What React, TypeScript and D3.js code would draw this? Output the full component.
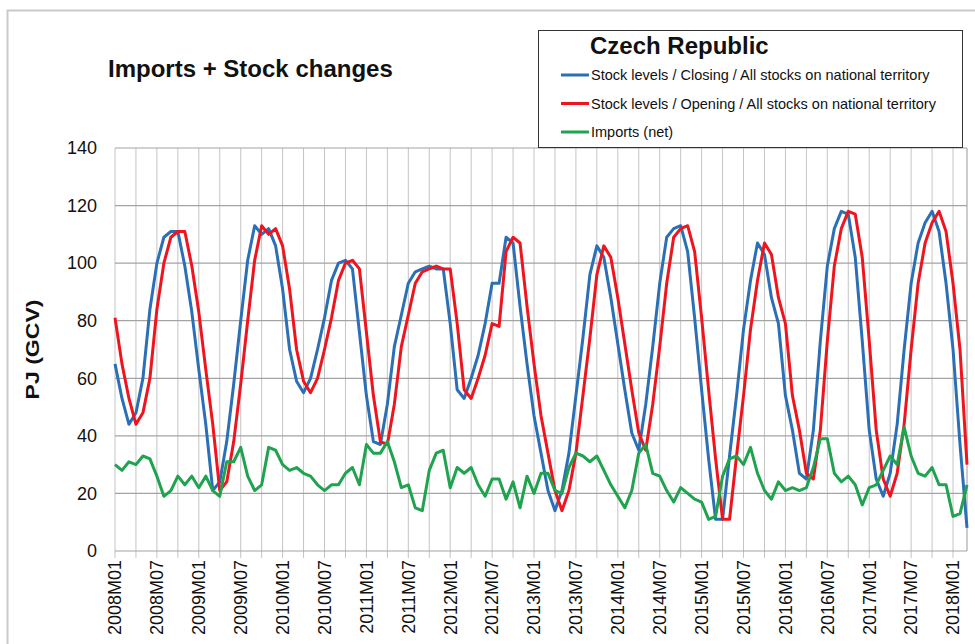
import React from 'react'
import * as d3 from 'd3'

// monthly categories 2008M01 .. 2018M03
const years = d3.range(2008, 2019)
const months = years
	.flatMap((y) => d3.range(1, 13).map((m) => `${y}M${String(m).padStart(2, '0')}`))
	.slice(0, 123)

const yTicks = [0, 20, 40, 60, 80, 100, 120, 140]

// Stock levels / Closing
const closing = [
	65, 53, 44, 48, 60, 84, 100, 109, 111, 111, 99, 83,
	63, 44, 21, 24, 38, 58, 80, 101, 113, 110, 112, 106,
	91, 70, 59, 55, 60, 70, 81, 94, 100, 101, 98, 76,
	54, 38, 37, 51, 71, 82, 93, 97, 98, 99, 98, 98,
	79, 56, 53, 60, 68, 79, 93, 93, 109, 107, 85, 65,
	47, 34, 21, 14, 21, 34, 54, 74, 96, 106, 102, 88,
	72, 56, 41, 35, 51, 71, 93, 109, 112, 113, 104, 81,
	56, 32, 11, 11, 33, 54, 77, 94, 107, 103, 88, 79,
	54, 42, 27, 25, 42, 73, 99, 112, 118, 117, 102, 73,
	42, 25, 19, 27, 44, 70, 93, 107, 114, 118, 111, 93,
	70, 37, 8,
]

// Stock levels / Opening
const opening = [
	81, 65, 53, 44, 48, 60, 84, 100, 109, 111, 111, 99,
	83, 63, 44, 21, 24, 38, 58, 80, 101, 113, 110, 112,
	106, 91, 70, 59, 55, 60, 70, 81, 94, 100, 101, 98,
	76, 54, 38, 37, 51, 71, 82, 93, 97, 98, 99, 98,
	98, 79, 56, 53, 60, 68, 79, 78, 104, 109, 107, 85,
	65, 47, 34, 21, 14, 21, 34, 54, 74, 96, 106, 102,
	88, 72, 56, 41, 35, 51, 71, 93, 109, 112, 113, 104,
	81, 56, 32, 11, 11, 33, 54, 77, 94, 107, 103, 88,
	79, 54, 42, 27, 25, 42, 73, 99, 112, 118, 117, 102,
	73, 42, 25, 19, 27, 44, 70, 93, 107, 114, 118, 111,
	93, 70, 30,
]

// Imports (net)
const imports = [
	30, 28, 31, 30, 33, 32, 26, 19, 21, 26, 23, 26,
	22, 26, 21, 19, 31, 31, 36, 26, 21, 23, 36, 35,
	30, 28, 29, 27, 26, 23, 21, 23, 23, 27, 29, 23,
	37, 34, 34, 38, 31, 22, 23, 15, 14, 28, 34, 35,
	22, 29, 27, 29, 23, 19, 25, 25, 18, 24, 15, 26,
	20, 27, 27, 21, 20, 29, 34, 33, 31, 33, 28, 23,
	19, 15, 21, 34, 37, 27, 26, 21, 17, 22, 20, 18,
	17, 11, 12, 26, 32, 33, 30, 36, 27, 21, 18, 24,
	21, 22, 21, 22, 29, 39, 39, 27, 24, 26, 23, 16,
	22, 23, 28, 33, 30, 43, 33, 27, 26, 29, 23, 23,
	12, 13, 23,
]

const series = [
	{ name: 'Stock levels / Closing / All stocks on national territory', values: closing, color: '#2b6fb6' },
	{ name: 'Stock levels / Opening / All stocks on national territory', values: opening, color: '#f0141e' },
	{ name: 'Imports (net)', values: imports, color: '#1fa34f' },
]

const font = "'Liberation Sans', Arial, sans-serif"

export default function App() {
	const left = 115
	const right = 967
	const top = 148
	const bottom = 551

	const x = d3.scalePoint().domain(months).range([left, right])
	const y = d3.scaleLinear().domain([0, 140]).range([bottom, top])

	const line = (vals) =>
		d3
			.line()
			.x((d, i) => x(months[i]))
			.y((d) => y(d))(vals)

	const gridMonths = months.filter((m, i) => i % 3 === 0)
	const labelMonths = months.filter((m, i) => i % 6 === 0)

	return (
		<div>
			<style>{'body{margin:0}'}</style>
			<svg width={975} height={644} style={{ display: 'block' }} fontFamily={font}>
				<rect x={0} y={0} width={975} height={644} fill="#fff" />
				<rect x={7.5} y={10.5} width={1000} height={700} fill="none" stroke="#c9c9c9" strokeWidth={2} />

				<text x={108} y={77} fontSize={24} fontWeight="bold" fill="#111">
					Imports + Stock changes
				</text>

				{/* vertical grid + ticks */}
				{gridMonths.map((m) => (
					<line key={m} x1={x(m)} x2={x(m)} y1={top} y2={bottom + 7} stroke="#c4c4c4" strokeWidth={1} />
				))}
				<line x1={right} x2={right} y1={top} y2={bottom} stroke="#9a9a9a" strokeWidth={1} />

				{/* horizontal grid */}
				{yTicks.map((t) => (
					<g key={t}>
						<line x1={left} x2={right} y1={y(t)} y2={y(t)} stroke="#a3a3a3" strokeWidth={1.2} />
						<text x={97} y={y(t)} dy="0.35em" textAnchor="end" fontSize={18} fill="#111">
							{t}
						</text>
					</g>
				))}

				{labelMonths.map((m) => (
					<text
						key={m}
						transform={`translate(${x(m)},${bottom + 9}) rotate(-90)`}
						textAnchor="end"
						dy="0.35em"
						fontSize={18}
						fill="#111"
					>
						{m}
					</text>
				))}

				<text
					transform={`translate(33,${(top + bottom) / 2}) rotate(-90)`}
					textAnchor="middle"
					dy="0.35em"
					fontSize={18}
					fontWeight="bold"
					fill="#111"
					textLength={100}
					lengthAdjust="spacingAndGlyphs"
				>
					PJ (GCV)
				</text>

				{series.map((s) => (
					<path key={s.name} d={line(s.values)} fill="none" stroke={s.color} strokeWidth={3} strokeLinejoin="round" />
				))}

				{/* legend */}
				<rect x={538.5} y={30.5} width={424} height={117} fill="#fff" stroke="#333" strokeWidth={1} />
				<text x={590} y={54} fontSize={24} fontWeight="bold" fill="#111">
					Czech Republic
				</text>
				{series.map((s, i) => (
					<g key={s.name} transform={`translate(0,${75 + i * 28.5})`}>
						<line x1={561} x2={589} y1={0} y2={0} stroke={s.color} strokeWidth={3} />
						<text x={591} y={0} dy="0.35em" fontSize={14.5} fill="#111">
							{s.name}
						</text>
					</g>
				))}
			</svg>
		</div>
	)
}
